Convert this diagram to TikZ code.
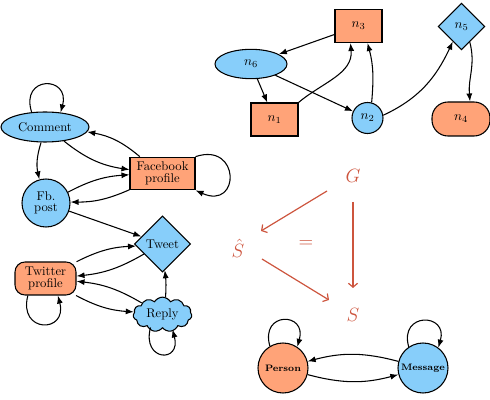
\documentclass[tikz,border=0pt]{standalone}
\usetikzlibrary{shapes.geometric,shapes.symbols,arrows.meta,calc}
\definecolor{lblue}{RGB}{135,206,250}
\definecolor{lsalmon}{RGB}{255,163,120}
\definecolor{redc}{RGB}{205,85,62}
\begin{document}
\begin{tikzpicture}[x=0.75pt,y=0.75pt,
 base/.style={draw,line width=0.8pt,inner sep=0pt,align=center,font=\fontsize{9.5}{8.5}\selectfont},
 bluen/.style={base,fill=lblue},
 orangen/.style={base,fill=lsalmon},
 nlab/.style={font=\normalsize},
 edge/.style={line width=0.8pt,-{Latex[length=6pt,width=4.5pt]}},
 redarr/.style={draw=redc,line width=0.9pt,-{Straight Barb[length=3pt,width=7pt]}},
 redlab/.style={text=redc,font=\Large,inner sep=0pt}
 ]
\useasboundingbox (0,0) rectangle (490,400);

% ---------- left graph ----------
\node[bluen,ellipse,minimum width=66pt,minimum height=22.5pt] (comment) at (45,273) {Comment};
\node[orangen,rectangle,minimum width=48.75pt,minimum height=24.5pt] (fbprof) at (162.5,226.5) {Facebook\\profile};
\node[bluen,circle,minimum size=36pt] (fbpost) at (46,197) {Fb.\\post};
\node[bluen,diamond,minimum width=42pt,minimum height=42pt] (tweet) at (162.5,156) {Tweet};
\node[orangen,rectangle,rounded corners=7.5pt,minimum width=45.75pt,minimum height=24.75pt] (twitter) at (45.5,121.5) {Twitter\\profile};
\node[bluen,cloud,cloud puffs=11,cloud puff arc=120,aspect=1.7,minimum width=44pt,minimum height=26pt] (reply) at (162.5,85.5) {Reply};

\draw[edge] (comment.132) .. controls +(-12,37) and +(10,37) .. (comment.43);
\draw[edge] (fbprof.north east) .. controls +(45,15) and +(45,-20) .. (fbprof.south east);
\draw[edge] (twitter.224) .. controls +(-10,-38) and +(10,-38) .. (twitter.-54);
\draw[edge] ($(reply.center)+(-12,-13)$) .. controls +(-9,-34) and +(9,-34) .. ($(reply.center)+(10,-15)$);

\draw[edge] (comment) to[bend right=15] (fbprof);
\draw[edge] (fbprof) to[bend right=15] (comment);
\draw[edge] (comment) to[bend right=15] (fbpost);
\draw[edge] (fbpost) to[bend left=12] (fbprof);
\draw[edge] (fbprof) to[bend left=12] (fbpost);
\draw[edge] (fbpost) -- (tweet);
\draw[edge] (twitter) to[bend left=12] (tweet);
\draw[edge] (tweet) to[bend left=12] (twitter);
\draw[edge] (reply) to[bend right=12] (twitter);
\draw[edge] (twitter) to[bend right=12] (reply);
\draw[edge] (reply.80) to[bend right=5] (tweet.-85);

% ---------- top right graph ----------
\node[orangen,nlab,minimum width=35.25pt,minimum height=24.75pt] (n3) at (358.5,374) {$n_3$};
\node[bluen,nlab,ellipse,minimum width=54pt,minimum height=22pt] (n6) at (251,336) {$n_6$};
\node[orangen,nlab,minimum width=35.25pt,minimum height=24.75pt] (n1) at (274.5,280.5) {$n_1$};
\node[bluen,nlab,circle,minimum size=23.25pt] (n2) at (367.5,282) {$n_2$};
\node[bluen,nlab,diamond,minimum width=35pt,minimum height=35pt] (n5) at (461.5,373.5) {$n_5$};
\node[orangen,nlab,rounded corners=12pt,minimum width=43.5pt,minimum height=25.5pt] (n4) at (461,281) {$n_4$};

\draw[edge] (n3) -- (n6);
\draw[edge] (n6) -- (n1);
\draw[edge] (n6) -- (n2);
\draw[edge] (n1.north east) to[out=40,in=-85] ($(n3.south)+(-8,0)$);
\draw[edge] (n2.75) to[out=85,in=-75] ($(n3.south)+(9,0)$);
\draw[edge] (n2.10) to[out=25,in=-115] (n5.-120);
\draw[edge] (n5.-62) to[out=-75,in=95] ($(n4.north)+(9,0)$);

% ---------- red diagram ----------
\node[redlab] (G) at (353,224.5) {$G$};
\node[redlab] (Sh) at (238,152) {$\hat S$};
\node[redlab] (eq) at (306,156) {$=$};
\node[redlab] (S) at (353,85) {$S$};
\draw[redarr] ($(G)+(-26,-15.5)$) -- ($(Sh)+(23,17)$);
\draw[redarr] ($(G)+(0,-26.5)$) -- ($(S)+(0,27)$);
\draw[redarr] ($(Sh)+(24,-11)$) -- ($(S)+(-24,15)$);

% ---------- bottom graph ----------
\node[orangen,circle,minimum size=37.5pt,font=\bfseries\scriptsize] (person) at (283,32) {Person};
\node[bluen,circle,minimum size=37.5pt,font=\bfseries\scriptsize] (message) at (423,32) {Message};
\draw[edge] (person.121) .. controls +(-10,35) and +(10,35) .. (person.56);
\draw[edge] (message.124) .. controls +(-10,35) and +(10,35) .. (message.53);
\draw[edge] (message) to[bend right=15] (person);
\draw[edge] (person) to[bend right=15] (message);
\end{tikzpicture}
\end{document}
